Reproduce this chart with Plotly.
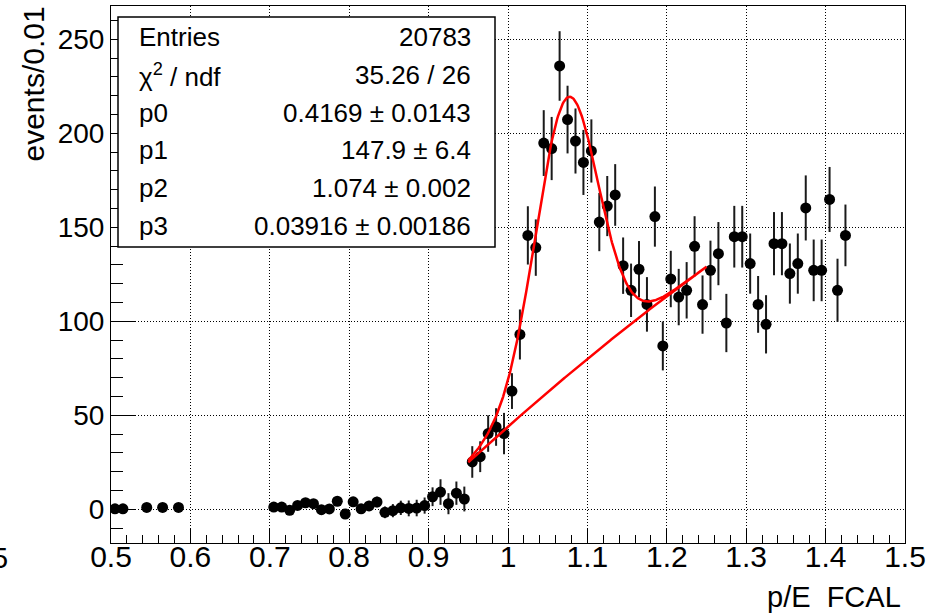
import numpy as np
import plotly.graph_objects as go

# ---- histogram: p/E FCAL, 0.01 wide bins (filled bins only) ----
bin_centers = [
    0.505, 0.515, 0.545, 0.565, 0.585,
    0.705, 0.715, 0.725, 0.735, 0.745, 0.755, 0.765, 0.775, 0.785, 0.795,
    0.805, 0.815, 0.825, 0.835, 0.845, 0.855, 0.865, 0.875, 0.885, 0.895,
    0.905, 0.915, 0.925, 0.935, 0.945, 0.955, 0.965, 0.975, 0.985, 0.995,
    1.005, 1.015, 1.025, 1.035, 1.045, 1.055, 1.065, 1.075, 1.085, 1.095,
    1.105, 1.115, 1.125, 1.135, 1.145, 1.155, 1.165, 1.175, 1.185, 1.195,
    1.205, 1.215, 1.225, 1.235, 1.245, 1.255, 1.265, 1.275, 1.285, 1.295,
    1.305, 1.315, 1.325, 1.335, 1.345, 1.355, 1.365, 1.375, 1.385, 1.395,
    1.405, 1.415, 1.425,
]
counts = [
    0.3, 0.3, 1.0, 1.0, 1.0,
    1.2, 1.2, -0.5, 2.1, 3.5, 3.0, -0.2, 0.2, 4.3, -2.5,
    4.0, 0.3, 1.8, 3.9, -1.6, -0.7, 0.8, 0.5, 0.7, 2.0,
    6.7, 9.2, 3.0, 8.6, 5.5, 25.2, 28.0, 40.3, 43.8, 40.3,
    62.9, 93.0, 145.7, 139.2, 194.8, 191.9, 235.8, 207.3, 195.9, 184.5,
    190.6, 152.8, 161.3, 167.2, 129.6, 116.5, 127.7, 109.0, 155.7, 86.9,
    122.5, 112.9, 116.5, 139.9, 108.9, 127.1, 136.0, 99.1, 145.0, 145.0,
    130.7, 109.0, 98.4, 141.3, 141.3, 125.4, 130.7, 160.3, 127.1, 127.1,
    164.8, 116.5, 145.7,
]
errors = [
    0.8, 0.8, 0.8, 0.8, 0.8,
    2.0, 2.0, 2.0, 2.2, 2.3, 2.3, 2.2, 2.2, 2.5, 2.3,
    2.6, 2.5, 2.7, 2.8, 3.1, 3.5, 3.8, 4.2, 4.4, 4.3,
    5.0, 6.8, 5.6, 6.2, 6.6, 8.4, 8.2, 9.7, 10.0, 11.0,
    9.5, 13.3, 15.5, 15.0, 17.5, 16.8, 18.5, 18.0, 17.3, 17.3,
    16.8, 15.5, 16.0, 16.4, 15.0, 14.2, 15.0, 14.5, 16.0, 13.0,
    15.0, 15.0, 15.0, 16.0, 15.5, 15.8, 16.8, 15.5, 16.4, 16.4,
    16.0, 15.1, 15.5, 16.8, 16.8, 16.0, 16.0, 17.3, 16.4, 16.4,
    17.3, 16.8, 16.4,
]

# ---- fit: gaussian (p1, p2, p3) on top of a smooth background ----
fit_range = [0.95, 1.25]
fit_p1, fit_p2, fit_p3 = 147.9, 1.074, 0.03916
bkg_x = [0.95, 1.10, 1.25]
bkg_y = [25.0, 80.0, 129.0]

# ---- stats box ----
stat_names = ["Entries", "\u03c7<sup>2</sup> / ndf", "p0", "p1", "p2", "p3"]
stat_values = ["20783", "35.26 / 26", "0.4169 \u00b1 0.0143", "147.9 \u00b1 6.4",
               "1.074 \u00b1 0.002", "0.03916 \u00b1 0.00186"]

# ---- axes ----
x_ticks = [0.5, 0.6, 0.7, 0.8, 0.9, 1.0, 1.1, 1.2, 1.3, 1.4, 1.5]
x_tick_labels = ["0.5", "0.6", "0.7", "0.8", "0.9", "1", "1.1", "1.2", "1.3", "1.4", "1.5"]
y_ticks = [0, 50, 100, 150, 200, 250]
y_tick_labels = ["0", "50", "100", "150", "200", "250"]
x_title = "p/E\u00a0 FCAL"
y_title = "events/0.01"

FONT = "Liberation Sans, Arial, Helvetica, sans-serif"
W, H = 946, 616
ML, MR, MT, MB = 111, 41, 6, 73
PW, PH = W - ML - MR, H - MT - MB


def fx(px):
    return (px - ML) / PW


def fy(py):
    return (H - MB - py) / PH


# fit curve: full function forward, background back to the start
bkg_coef = np.polyfit(bkg_x, bkg_y, 2)
xs = np.linspace(fit_range[0], fit_range[1], 301)
bkg = np.polyval(bkg_coef, xs)
total = bkg + fit_p1 * np.exp(-0.5 * ((xs - fit_p2) / fit_p3) ** 2)
curve_x = np.concatenate([xs, xs[::-1]])
curve_y = np.concatenate([total, bkg[::-1]])

fig = go.Figure()
fig.add_trace(go.Scatter(
    x=bin_centers, y=counts, mode="markers",
    marker=dict(symbol="circle", size=11, color="black"),
    error_y=dict(type="data", array=errors, visible=True,
                 color="#1a1a1a", thickness=2, width=0),
    hoverinfo="x+y", showlegend=False,
))
fig.add_trace(go.Scatter(
    x=curve_x, y=curve_y, mode="lines",
    line=dict(color="#ff0000", width=2.5),
    hoverinfo="skip", showlegend=False,
))

axis_common = dict(
    showline=True, linecolor="black", linewidth=1, mirror=True,
    showgrid=True, gridcolor="black", gridwidth=1, griddash="1px,2px",
    zeroline=False, ticks="inside", tickcolor="black", tickwidth=1,
    tickmode="array",
)

fig.update_layout(
    width=W, height=H,
    margin=dict(l=ML, r=MR, t=MT, b=MB, pad=0),
    paper_bgcolor="white", plot_bgcolor="white",
    showlegend=False,
    xaxis=dict(
        range=[0.5, 1.5], tickvals=x_ticks, ticktext=x_tick_labels,
        ticklen=15, ticklabelstandoff=-13,
        tickfont=dict(family=FONT, size=30, color="black"),
        minor=dict(ticks="inside", ticklen=8, dtick=0.02, tick0=0.5,
                   tickcolor="black", tickwidth=1, showgrid=False),
        **axis_common,
    ),
    yaxis=dict(
        range=[-17.9, 267.7], tickvals=y_ticks, ticktext=y_tick_labels,
        ticklen=24, tickfont=dict(family=FONT, size=28, color="black"),
        minor=dict(ticks="inside", ticklen=12, dtick=10, tick0=0,
                   tickcolor="black", tickwidth=1, showgrid=False),
        **axis_common,
    ),
)

# stats box
fig.add_shape(type="rect", xref="paper", yref="paper",
              x0=fx(118), x1=fx(495), y0=fy(247), y1=fy(17),
              fillcolor="white", line=dict(color="black", width=1.5),
              layer="above")

row_y = [37, 75, 113, 150, 188, 226]
for name, val, ry in zip(stat_names, stat_values, row_y):
    fig.add_annotation(xref="paper", yref="paper", x=fx(137), y=fy(ry),
                       text=name, showarrow=False, xanchor="left", yanchor="middle",
                       font=dict(family=FONT, size=26, color="black"))
    fig.add_annotation(xref="paper", yref="paper", x=fx(473), y=fy(ry),
                       text=val, showarrow=False, xanchor="right", yanchor="middle",
                       font=dict(family=FONT, size=26, color="black"))

# axis titles
fig.add_annotation(xref="paper", yref="paper", x=fx(903), y=fy(597),
                   text=x_title, showarrow=False, xanchor="right", yanchor="middle",
                   font=dict(family=FONT, size=29, color="black"))
fig.add_annotation(xref="paper", yref="paper", x=fx(33), y=fy(5),
                   text=y_title, showarrow=False, textangle=-90,
                   xanchor="center", yanchor="top",
                   font=dict(family=FONT, size=30, color="black"))
# leftover label at the lower-left edge
fig.add_annotation(xref="paper", yref="paper", x=fx(10), y=fy(558),
                   text="5", showarrow=False, xanchor="right", yanchor="middle",
                   font=dict(family=FONT, size=29, color="black"))

fig.write_html("out.html")
